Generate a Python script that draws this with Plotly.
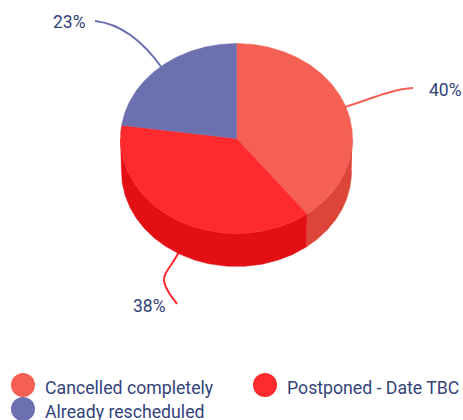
import numpy as np
import plotly.graph_objects as go

categories = ["Cancelled completely", "Postponed - Date TBC", "Already rescheduled"]
values = [40, 38, 23]
labels = ["40%", "38%", "23%"]
top_colors = ["#F46154", "#FF2A2E", "#6D70AF"]
side_colors = ["#DD4539", "#E30F14", "#5A5D96"]
text_color = "#33437A"
FONT = "Roboto, sans-serif"

W, H = 463, 420
cx, cy, rx, ry, depth = 236.5, 138.5, 116, 95, 33


def ell(a, dy=0.0, rxx=rx):
    return cx + rxx * np.sin(a), cy - ry * np.cos(a) + dy


fracs = np.array(values, float) / sum(values)
edges = np.concatenate([[0], np.cumsum(fracs)]) * 2 * np.pi

fig = go.Figure()

# side walls (only the front half of the cylinder is visible)
for i, name in enumerate(categories):
    a0, a1 = max(edges[i], np.pi / 2), min(edges[i + 1], 3 * np.pi / 2)
    if a1 <= a0:
        continue
    a = np.linspace(a0, a1, 120)
    xt, yt = ell(a)
    xb, yb = ell(a[::-1], depth, rx - 1)
    fig.add_trace(go.Scatter(
        x=np.r_[xt, xb], y=np.r_[yt, yb], mode="lines", fill="toself",
        fillcolor=side_colors[i], line=dict(color=side_colors[i], width=0.5),
        hoverinfo="skip", showlegend=False))

# top face
for i, name in enumerate(categories):
    a = np.linspace(edges[i], edges[i + 1], 200)
    xt, yt = ell(a)
    fig.add_trace(go.Scatter(
        x=np.r_[cx, xt, cx], y=np.r_[cy, yt, cy], mode="lines", fill="toself",
        fillcolor=top_colors[i], line=dict(color=top_colors[i], width=0.5),
        name=name, text=f"{name}: {labels[i]}", hoverinfo="text", showlegend=False))

# leader lines
leaders = [
    ("M 345 107 C 368 100 392 89 413 88", top_colors[0]),
    ("M 180 250 C 172 266 163 273 164 281 C 166 292 172 296 177 304", top_colors[1]),
    ("M 162 68 C 145 44 122 24 95 21", top_colors[2]),
]
shapes = [dict(type="path", path=p, xref="x", yref="y", layer="below",
               line=dict(color=c, width=2)) for p, c in leaders]

annos = []
for txt, x, y in [(labels[0], 445, 90), (labels[1], 149, 306), (labels[2], 69, 22)]:
    annos.append(dict(x=x, y=y, text=txt, showarrow=False, xanchor="center", yanchor="middle",
                      font=dict(family=FONT, size=17.5, color=text_color)))

# legend
lx = [23, 265, 23]
ly = [385, 385, 409]
for i, name in enumerate(categories):
    fig.add_trace(go.Scatter(x=[lx[i]], y=[ly[i]], mode="markers",
                             marker=dict(size=24, color=top_colors[i]),
                             name=name, hoverinfo="name", showlegend=False, cliponaxis=True))
    annos.append(dict(x=lx[i] + 20, y=ly[i] + 3, text=name, showarrow=False, xanchor="left",
                      yanchor="middle", font=dict(family=FONT, size=17.7, color=text_color)))

fig.update_layout(
    width=W, height=H, margin=dict(l=0, r=0, t=0, b=0),
    paper_bgcolor="white", plot_bgcolor="white", showlegend=False,
    xaxis=dict(range=[0, W], visible=False, fixedrange=True),
    yaxis=dict(range=[H, 0], visible=False, fixedrange=True),
    shapes=shapes, annotations=annos,
)
fig.write_html("out.html", config={"displayModeBar": False},
               post_script="document.body.style.margin='0';document.documentElement.style.overflow='hidden';")
